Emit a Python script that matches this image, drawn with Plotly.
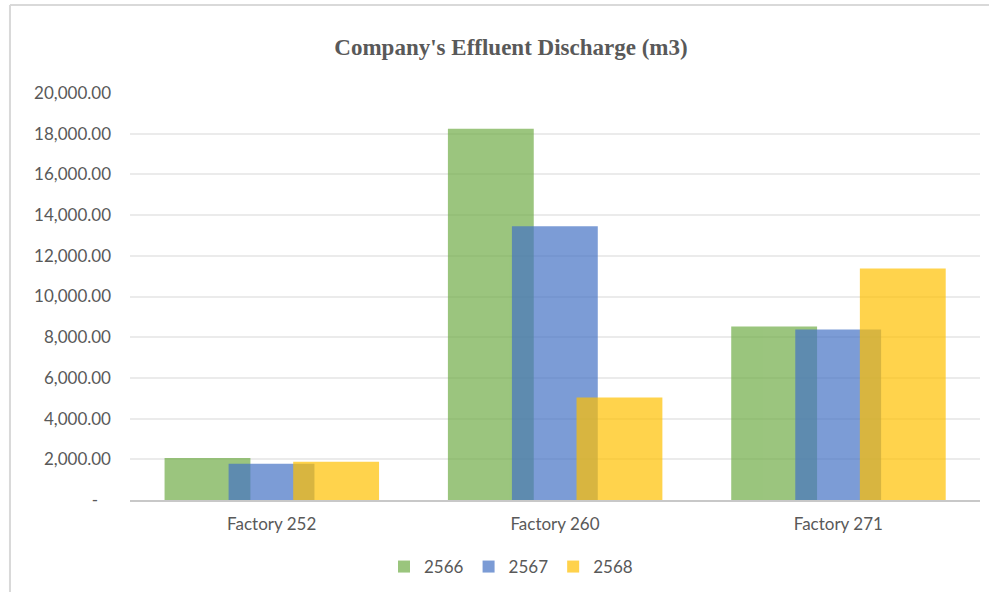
import plotly.graph_objects as go

categories = ["Factory 252", "Factory 260", "Factory 271"]
years = ["2566", "2567", "2568"]
values_2566 = [2070, 18240, 8520]
values_2567 = [1780, 13450, 8380]
values_2568 = [1880, 5040, 11380]
series = [values_2566, values_2567, values_2568]
colors = ["#70AD47", "#4472C4", "#FFC000"]
tick_vals = [0, 2000, 4000, 6000, 8000, 10000, 12000, 14000, 16000, 18000, 20000]
tick_text = ["-\u00a0\u00a0\u00a0"] + [f"{v:,.2f}" for v in tick_vals[1:]]

bar_width = 0.303
offsets = [-0.378, -0.152, 0.076]

FONT = "Lato, Carlito, Calibri, sans-serif"
GRAY = "#595959"

fig = go.Figure()
for name, vals, col, off in zip(years, series, colors, offsets):
    fig.add_trace(go.Bar(
        x=categories, y=vals, name=name,
        marker=dict(color=col, line=dict(width=0)),
        opacity=0.7, width=bar_width, offset=off,
    ))

# chart border (top and left)
fig.add_shape(type="line", xref="paper", yref="paper",
              x0=-0.1412, x1=1.05, y0=1.2162, y1=1.2162,
              line=dict(color="#D9D9D9", width=2))
fig.add_shape(type="line", xref="paper", yref="paper",
              x0=-0.1412, x1=-0.1412, y0=1.2162, y1=-0.3,
              line=dict(color="#D9D9D9", width=2))

fig.update_layout(
    width=989, height=592,
    margin=dict(l=130, r=9, t=93, b=92),
    paper_bgcolor="white", plot_bgcolor="white",
    barmode="overlay",
    title=dict(text="<b>Company's Effluent Discharge (m3)</b>",
               font=dict(family="Liberation Serif", size=23, color=GRAY),
               x=511 / 989, xref="container", xanchor="center",
               y=1 - 47 / 592, yref="container", yanchor="middle"),
    font=dict(family=FONT, size=17, color=GRAY),
    legend=dict(orientation="h", x=511 / 989, xref="container", xanchor="center",
                y=1 - 567 / 592, yref="container", yanchor="middle",
                font=dict(family=FONT, size=17, color=GRAY),
                itemwidth=30, traceorder="normal"),
    xaxis=dict(showgrid=False, showline=True, linecolor="#C8C8C8", linewidth=2,
               ticks="", ticklabelstandoff=8,
               tickfont=dict(family=FONT, size=17, color=GRAY),
               range=[-0.5, 2.5], fixedrange=True),
    yaxis=dict(range=[0, 20000], tickvals=tick_vals, ticktext=tick_text,
               showgrid=True, gridcolor="#EBEBEB", gridwidth=1.5,
               zeroline=False, showline=False, ticks="",
               ticklabelstandoff=18,
               tickfont=dict(family=FONT, size=17, color=GRAY)),
)

fig.write_html("out.html")
